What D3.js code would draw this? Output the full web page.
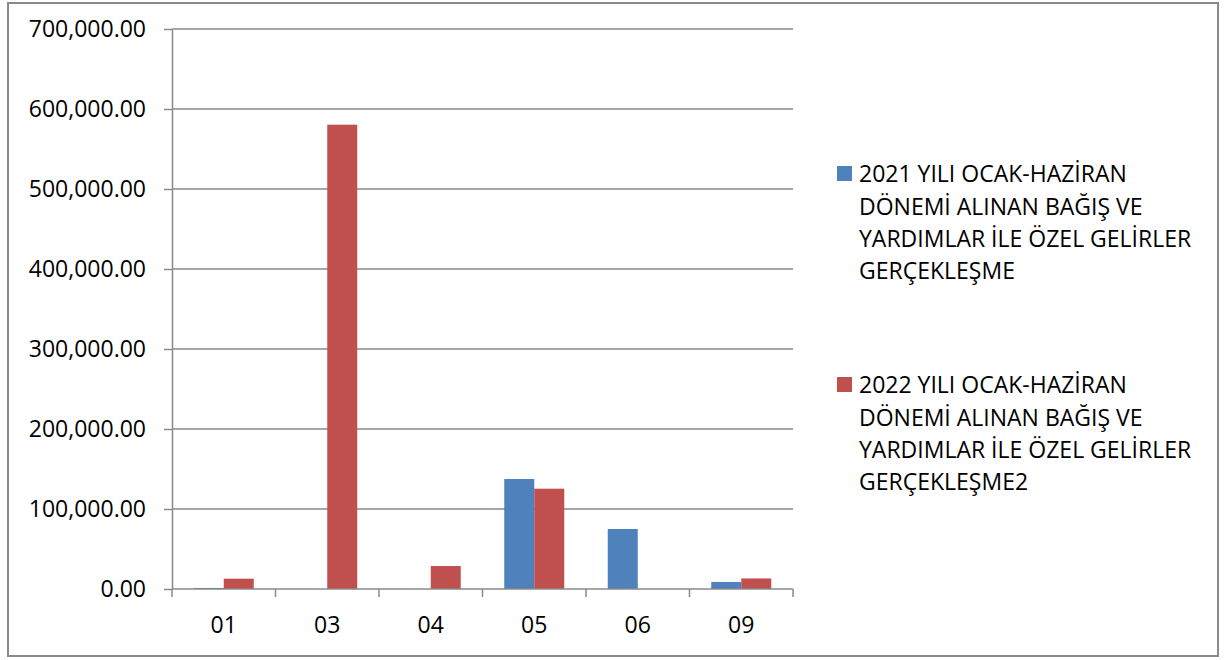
<!DOCTYPE html>
<html>
<head>
<meta charset="utf-8">
<script src="https://cdn.jsdelivr.net/npm/d3@7"></script>
<style>
  body { margin: 0; background: #fff; }
  svg { display: block; font-family: "Open Sans", "Noto Sans", sans-serif; }
</style>
</head>
<body>
<div id="chart"></div>
<script>
// categories and values
var categories = ["01", "03", "04", "05", "06", "09"];
var values2021 = [1300, 0, 0, 137500, 75000, 8800];
var values2022 = [12900, 580400, 28700, 125400, 0, 13200];
var seriesNames = [
  ["2021 YILI OCAK-HAZİRAN", "DÖNEMİ ALINAN BAĞIŞ VE", "YARDIMLAR İLE ÖZEL GELİRLER", "GERÇEKLEŞME"],
  ["2022 YILI OCAK-HAZİRAN", "DÖNEMİ ALINAN BAĞIŞ VE", "YARDIMLAR İLE ÖZEL GELİRLER", "GERÇEKLEŞME2"]
];
var seriesColors = ["#4F81BD", "#C0504D"];
var yTicks = [0, 100000, 200000, 300000, 400000, 500000, 600000, 700000];

var W = 1226, H = 660;
var margin = {top: 29, right: 433, bottom: 70, left: 172};
var width = 793 - margin.left, height = 589 - margin.top;

var svg = d3.select("#chart").append("svg")
  .attr("width", W).attr("height", H);

// outer frame
svg.append("rect")
  .attr("x", 8).attr("y", 3).attr("width", 1210).attr("height", 653)
  .attr("fill", "none").attr("stroke", "#8a8a8a").attr("stroke-width", 2);

var g = svg.append("g")
  .attr("transform", "translate(" + margin.left + "," + margin.top + ")");

var x = d3.scaleBand().domain(categories).range([0, width]).paddingInner(0).paddingOuter(0);
var x1 = d3.scaleBand().domain([0, 1]).range([x.bandwidth() / 2 - 30, x.bandwidth() / 2 + 30]);
var y = d3.scaleLinear().domain([0, 700000]).range([height, 0]);

var fmt = d3.format(",.2f");

// gridlines
g.append("g").selectAll("line").data(yTicks.slice(1)).enter().append("line")
  .attr("x1", 0).attr("x2", width)
  .attr("y1", function(d) { return y(d); }).attr("y2", function(d) { return y(d); })
  .attr("stroke", "#8a8a8a").attr("stroke-width", 1.5);

// bars
var data = categories.map(function(c, i) { return {cat: c, vals: [values2021[i], values2022[i]]}; });
g.append("g").selectAll("g").data(data).enter().append("g")
  .attr("transform", function(d) { return "translate(" + x(d.cat) + ",0)"; })
  .selectAll("rect").data(function(d) { return d.vals; }).enter().append("rect")
    .attr("x", function(d, i) { return x1(i); })
    .attr("width", x1.bandwidth())
    .attr("y", function(d) { return y(d); })
    .attr("height", function(d) { return height - y(d); })
    .attr("fill", function(d, i) { return seriesColors[i]; });

// y axis
var yAxis = g.append("g")
  .call(d3.axisLeft(y).tickValues(yTicks).tickFormat(fmt).tickSizeInner(8).tickSizeOuter(0).tickPadding(18))
  .attr("font-family", null).attr("font-size", null);
yAxis.select(".domain").attr("stroke", "#8a8a8a").attr("stroke-width", 1.5);
yAxis.selectAll(".tick line").attr("stroke", "#8a8a8a").attr("stroke-width", 1.5);
yAxis.selectAll(".tick text").attr("fill", "#000").style("font-size", "23px");

// x axis: ticks at category boundaries
var xAxisG = g.append("g").attr("transform", "translate(0," + height + ")");
xAxisG.append("line").attr("x1", 0).attr("x2", width)
  .attr("stroke", "#8a8a8a").attr("stroke-width", 1.5);
var bounds = categories.map(function(c) { return x(c); }).concat([width]);
xAxisG.selectAll(".bt").data(bounds).enter().append("line")
  .attr("x1", function(d) { return d; }).attr("x2", function(d) { return d; })
  .attr("y1", 0).attr("y2", 8)
  .attr("stroke", "#8a8a8a").attr("stroke-width", 1.5);
xAxisG.selectAll("text").data(categories).enter().append("text")
  .attr("x", function(d) { return x(d) + x.bandwidth() / 2; })
  .attr("y", 44)
  .attr("text-anchor", "middle")
  .style("font-size", "23px")
  .text(function(d) { return d; });

// legend
var legendTop = [174, 385];
seriesNames.forEach(function(lines, i) {
  var lg = svg.append("g").attr("transform", "translate(837," + legendTop[i] + ")");
  lg.append("rect").attr("x", 0).attr("y", -8).attr("width", 15).attr("height", 15)
    .attr("fill", seriesColors[i]);
  lines.forEach(function(t, j) {
    lg.append("text").attr("x", 22).attr("y", j * 32.3).attr("dy", "0.36em")
      .style("font-size", "23px").text(t);
  });
});
</script>
</body>
</html>
